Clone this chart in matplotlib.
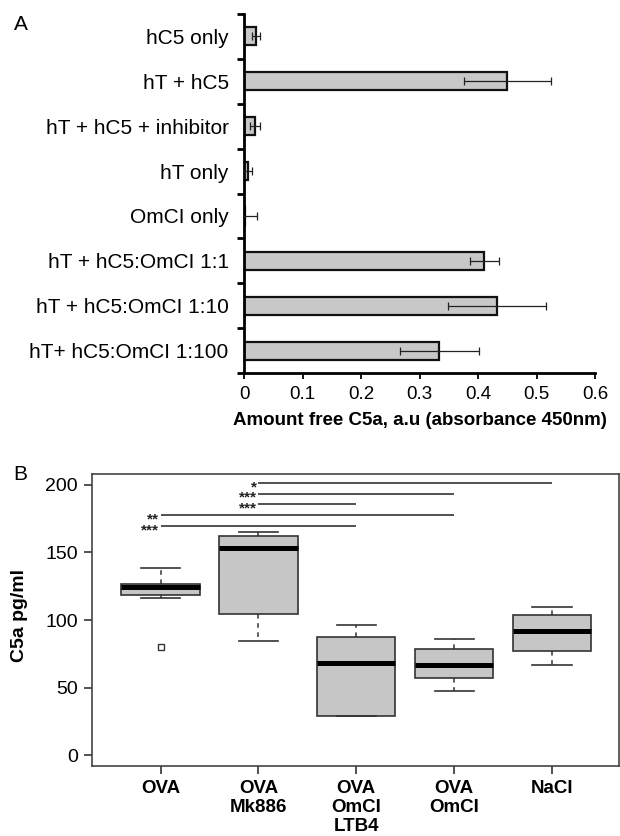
"""
Two-panel figure: free C5a absorbance (A) and C5a levels per group (B).
"""

import numpy as np
import matplotlib
matplotlib.use('Agg')
from matplotlib import pyplot as plt

plt.rcParams['font.family'] = ['Liberation Sans', 'DejaVu Sans']

# panel A data ----------------
conditions = ['hC5 only', 'hT + hC5', 'hT + hC5 + inhibitor', 'hT only',
              'OmCI only', 'hT + hC5:OmCI 1:1', 'hT + hC5:OmCI 1:10',
              'hT+ hC5:OmCI 1:100']
absorbance = [0.020, 0.450, 0.019, 0.006, 0.001, 0.411, 0.433, 0.334]
abs_err    = [0.007, 0.074, 0.009, 0.007, 0.022, 0.025, 0.084, 0.068]
xticks_a   = [0, 0.1, 0.2, 0.3, 0.4, 0.5, 0.6]

# panel B data ----------------
groups   = ['OVA', 'OVA\nMk886', 'OVA\nOmCI\nLTB4', 'OVA\nOmCI', 'NaCl']
q1       = [118.7, 104.4, 29.1, 57.0, 76.8]
median   = [124.5, 153.3, 68.1, 66.4, 92.1]
q3       = [126.7, 162.2, 87.6, 78.5, 103.7]
whislo   = [116.0, 84.7, 28.7, 47.6, 66.9]
whishi   = [138.3, 165.2, 96.5, 85.7, 109.9]
fliers   = [[79.8], [], [], [], []]
sig_from = [2, 2, 2, 1, 1]
sig_to   = [5, 4, 3, 4, 3]
sig_y    = [201.2, 193.6, 185.7, 177.5, 169.6]
sig_txt  = ['*', '***', '***', '**', '***']
yticks_b = [0, 50, 100, 150, 200]

W, H = 620, 836
fig = plt.figure(figsize=(W/100, H/100), dpi=100)

# A) bar chart ----------------
axa = fig.add_axes([244/W, 1-373/H, 351/W, 359/H])
ypos = np.arange(len(conditions))
axa.barh(ypos, absorbance, height=0.4, color='#c8c8c8', edgecolor='#111111', lw=1.6, zorder=2)
axa.errorbar(absorbance, ypos, xerr=abs_err, fmt='none', ecolor='#222222',
             elinewidth=0.9, capsize=3, capthick=0.9, zorder=3)
axa.set_ylim(len(conditions)-0.5, -0.5)
axa.set_xlim(0, 0.6)
axa.set_yticks(ypos)
axa.set_yticklabels(conditions, fontsize=15)
axa.set_yticks(np.arange(len(conditions)+1)-0.5, minor=True)
axa.set_xticks(xticks_a)
axa.set_xticklabels(['0', '0.1', '0.2', '0.3', '0.4', '0.5', '0.6'], fontsize=13.5)
axa.tick_params(axis='y', which='major', length=0, pad=11)
axa.tick_params(axis='y', which='minor', length=5, width=2)
axa.tick_params(axis='x', length=4.5, width=1.3, pad=5)
for s in ['top', 'right']:
    axa.spines[s].set_visible(False)
for s in ['left', 'bottom']:
    axa.spines[s].set_linewidth(2.0)
axa.set_xlabel('Amount free C5a, a.u (absorbance 450nm)', fontsize=13.5,
               fontweight='bold', labelpad=6)
fig.text(14/W, 1-25/H, 'A', fontsize=15, va='center', ha='left')

# B) box plot -----------------
axb = fig.add_axes([92/W, 1-765.7/H, 527/W, 291.4/H])
stats = []
for i in range(len(groups)):
    stats.append(dict(med=median[i], q1=q1[i], q3=q3[i], whislo=whislo[i],
                      whishi=whishi[i], fliers=fliers[i]))
pos = np.arange(1, len(groups)+1)
axb.bxp(stats, positions=pos, widths=0.8, capwidths=0.4, patch_artist=True,
        boxprops=dict(facecolor='#c6c6c6', edgecolor='#333333', lw=1.2),
        medianprops=dict(color='black', lw=3.6, solid_capstyle='butt'),
        whiskerprops=dict(color='#333333', lw=1.1, dashes=(3, 3)),
        capprops=dict(color='#333333', lw=1.2),
        flierprops=dict(marker='s', markersize=4.5, markerfacecolor='none',
                        markeredgecolor='#333333', markeredgewidth=1.0))
for a, b, y, t in zip(sig_from, sig_to, sig_y, sig_txt):
    axb.plot([a, b], [y, y], color='#333333', lw=1.2, solid_capstyle='butt')
    axb.annotate(t, (a, y), xytext=(-1, -6), textcoords='offset points',
                 ha='right', va='baseline', fontsize=11, fontweight='bold', color='#222222')
axb.set_xlim(0.30, 5.684)
axb.set_ylim(-7.9, 207.9)
axb.set_xticks(pos)
axb.set_xticklabels(groups, fontsize=13.5, fontweight='bold', linespacing=1.15)
axb.set_yticks(yticks_b)
axb.set_yticklabels([str(v) for v in yticks_b], fontsize=14)
axb.tick_params(axis='both', length=6, width=1.2, color='#333333')
axb.tick_params(axis='x', pad=4.5)
axb.tick_params(axis='y', pad=4)
for s in axb.spines.values():
    s.set_linewidth(1.2)
    s.set_color('#444444')
fig.text(20/W, 1-615/H, 'C5a pg/ml', rotation=90, fontsize=14, fontweight='bold',
         va='center', ha='center')
fig.text(13/W, 1-474/H, 'B', fontsize=15, va='center', ha='left')

plt.savefig('out.png', dpi=100)
